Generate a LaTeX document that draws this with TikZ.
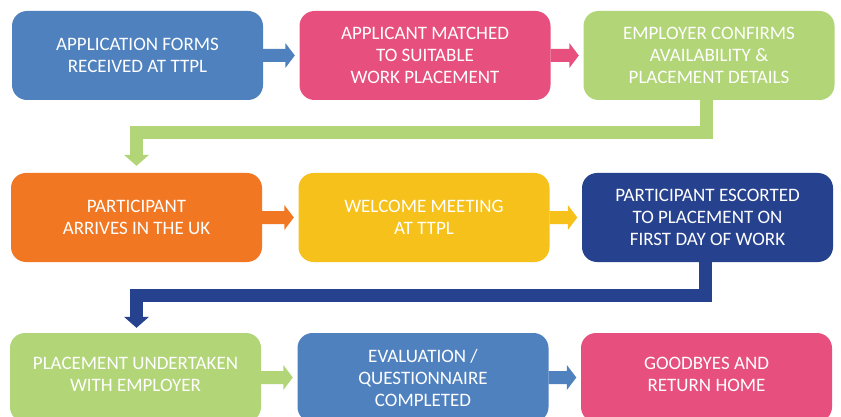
\documentclass[tikz,border=0pt]{standalone}
\usepackage{fontspec}
\setmainfont{Carlito}
\usetikzlibrary{calc}
\definecolor{cblue}{RGB}{79,129,191}
\definecolor{cpink}{RGB}{231,80,126}
\definecolor{cgreen}{RGB}{177,213,119}
\definecolor{corange}{RGB}{242,119,34}
\definecolor{cyellow}{RGB}{246,193,26}
\definecolor{cnavy}{RGB}{38,65,142}
\newcommand\blockarr[3]{%
  \fill[#1] ([yshift=-6.5pt]#2.east) -- ([xshift=-14pt,yshift=-6.5pt]#3.west)
    -- ([xshift=-14pt,yshift=-12.5pt]#3.west) -- ([xshift=-4.5pt]#3.west)
    -- ([xshift=-14pt,yshift=12.5pt]#3.west) -- ([xshift=-14pt,yshift=6.5pt]#3.west)
    -- ([yshift=6.5pt]#2.east) -- cycle;}
\begin{document}
\begin{tikzpicture}[x=1pt,y=-1pt,
  boxtext/.style={text=white, align=center, font=\fontsize{19pt}{22pt}\selectfont},
  box/.style={rounded corners=15pt, minimum width=251pt, minimum height=89pt,
    inner sep=0pt, boxtext},
  conn/.style={line width=13pt, line join=miter}]
\clip (0,0) rectangle (841,417);
\fill[white] (0,0) rectangle (841,417);
% row 1
\node[box, fill=cblue]  (b1) at (137.5,55.5) {APPLICATION FORMS\\RECEIVED AT TTPL};
\node[box, fill=cpink]  (b2) at (425,55.5)   {APPLICANT MATCHED\\TO SUITABLE\\WORK PLACEMENT};
\node[box, fill=cgreen] (b3) at (709,55.5)   {EMPLOYER CONFIRMS\\AVAILABILITY \&\\PLACEMENT DETAILS};
% row 2
\node[box, fill=corange] (b4) at (136.5,217.5) {PARTICIPANT\\ARRIVES IN THE UK};
\node[box, fill=cyellow] (b5) at (424,217.5)   {WELCOME MEETING\\AT TTPL};
\node[box, fill=cnavy]   (b6) at (707.5,217.5) {PARTICIPANT ESCORTED\\TO PLACEMENT ON\\FIRST DAY OF WORK};
% row 3
\node[box, fill=cgreen, label={[boxtext, yshift=3pt]center:PLACEMENT UNDERTAKEN\\WITH EMPLOYER}] (b7) at (135.5,377.5) {};
\node[box, fill=cblue]  (b8) at (423,377.5)   {EVALUATION /\\QUESTIONNAIRE\\COMPLETED};
\node[box, fill=cpink, label={[boxtext, yshift=3pt]center:GOODBYES AND\\RETURN HOME}] (b9) at (706.5,377.5) {};
% horizontal arrows
\blockarr{cblue}{b1}{b2}
\blockarr{cpink}{b2}{b3}
\blockarr{corange}{b4}{b5}
\blockarr{cyellow}{b5}{b6}
\blockarr{cgreen}{b7}{b8}
\blockarr{cblue}{b8}{b9}
% elbow connectors
\draw[conn, cgreen] ([xshift=-2.5pt]b3.south) |- ($(b4.north)+(0,-40)$) -- ($(b4.north)+(0,-17.5)$);
\fill[cgreen] ($(b4.north)+(-12.5,-18)$) -- ($(b4.north)+(12.5,-18)$) -- ($(b4.north)+(0,-7)$) -- cycle;
\draw[conn, cnavy] ([xshift=-2pt]b6.south) |- ($(b4.north |- b7.north)+(0,-37)$) -- ($(b4.north |- b7.north)+(0,-15.5)$);
\fill[cnavy] ($(b4.north |- b7.north)+(-12.5,-16)$) -- ($(b4.north |- b7.north)+(12.5,-16)$) -- ($(b4.north |- b7.north)+(0,-5)$) -- cycle;
\end{tikzpicture}
\end{document}
